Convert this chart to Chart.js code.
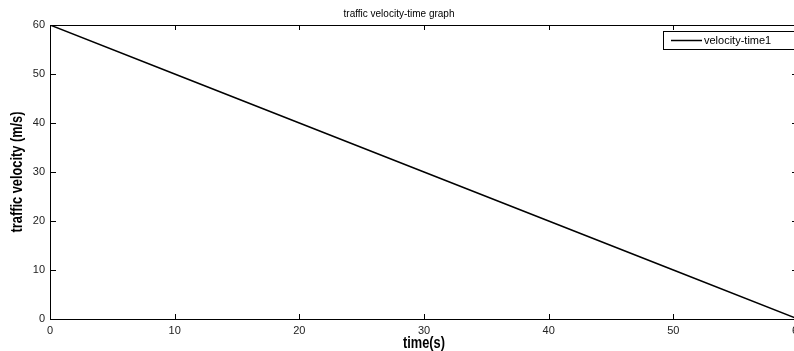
<!DOCTYPE html>
<html>
<head>
<meta charset="utf-8">
<script src="https://cdn.jsdelivr.net/npm/chart.js@4"></script>
<style>
  html, body { margin: 0; padding: 0; background: #fff; overflow: hidden; }
  #wrap { width: 794px; height: 351px; overflow: hidden; }
  canvas { display: block; }
</style>
</head>
<body>
<div id="wrap"><canvas id="vt-chart" width="798" height="351" style="width:798px;height:351px"></canvas></div>
<script>
// values
const timeSeconds = [0, 10, 20, 30, 40, 50, 60];
const velocity = [60, 50, 40, 30, 20, 10, 0];
const xTicks = [0, 10, 20, 30, 40, 50, 60];
const yTicks = [0, 10, 20, 30, 40, 50, 60];
const seriesName = 'velocity-time1';
const xLabel = 'time(s)';
const yLabel = 'traffic velocity (m/s)';

const sans = "'Liberation Sans', Arial, Helvetica, sans-serif";

// condensed bold axis label (the original uses a narrow heavy face)
function narrowText(ctx, text, x, y, rot) {
  ctx.save();
  ctx.translate(x, y);
  ctx.rotate(rot);
  ctx.scale(0.8, 1);
  ctx.font = 'bold 16px ' + sans;
  ctx.fillStyle = '#000';
  ctx.textAlign = 'center';
  ctx.textBaseline = 'middle';
  ctx.fillText(text, 0, 0);
  ctx.restore();
}

// matlab style: full box, inward ticks, legend inside the axes
const boxPlugin = {
  id: 'matlabBox',
  afterDatasetsDraw(chart) {
    const { ctx, chartArea: a, scales } = chart;
    ctx.save();
    ctx.strokeStyle = '#000';
    ctx.lineWidth = 1;
    ctx.strokeRect(a.left + 0.5, a.top + 0.5, a.right - a.left, a.bottom - a.top);
    ctx.beginPath();
    xTicks.forEach(v => {
      const px = Math.round(scales.x.getPixelForValue(v)) + 0.5;
      ctx.moveTo(px, a.bottom); ctx.lineTo(px, a.bottom - 5);
      ctx.moveTo(px, a.top); ctx.lineTo(px, a.top + 5);
    });
    yTicks.forEach(v => {
      const py = Math.round(scales.y.getPixelForValue(v)) + 0.5;
      ctx.moveTo(a.left, py); ctx.lineTo(a.left + 6, py);
      ctx.moveTo(a.right, py); ctx.lineTo(a.right - 6, py);
    });
    ctx.stroke();

    // legend
    const lx = a.right - 135, ly = a.top + 6, lw = 132, lh = 18;
    ctx.fillStyle = '#fff';
    ctx.fillRect(lx, ly, lw, lh);
    ctx.strokeRect(lx + 0.5, ly + 0.5, lw, lh);
    ctx.beginPath();
    ctx.lineWidth = 1.5;
    ctx.moveTo(lx + 8, ly + 9.5);
    ctx.lineTo(lx + 39, ly + 9.5);
    ctx.stroke();
    ctx.fillStyle = '#000';
    ctx.font = '11px ' + sans;
    ctx.textBaseline = 'middle';
    ctx.textAlign = 'left';
    ctx.fillText(chart.data.datasets[0].label, lx + 41, ly + 10);
    ctx.restore();

    // axis labels
    narrowText(ctx, xLabel, (a.left + a.right) / 2, 344, 0);
    narrowText(ctx, yLabel, 18, (a.top + a.bottom) / 2, -Math.PI / 2);
  }
};

const vtConfig = {
  type: 'line',
  data: {
    datasets: [
      {
        label: seriesName,
        data: timeSeconds.map((t, i) => ({ x: t, y: velocity[i] })),
        borderColor: '#000',
        borderWidth: 1.5,
        pointRadius: 0,
        tension: 0,
        fill: false,
      },
    ],
  },
  options: {
    responsive: false,
    animation: false,
    layout: { padding: 0 },
    plugins: {
      legend: { display: false },
      tooltip: { enabled: false },
      title: {
        display: true,
        text: 'traffic velocity-time graph',
        color: '#000',
        font: { family: sans, size: 10, weight: 'normal' },
        padding: { top: 8, bottom: 5 },
      },
    },
    scales: {
      x: {
        type: 'linear',
        min: 0,
        max: 60,
        grid: { display: false, drawTicks: false },
        border: { display: true, color: '#000', width: 1 },
        afterBuildTicks: s => { s.ticks = xTicks.map(v => ({ value: v })); },
        ticks: {
          padding: 5,
          color: '#222',
          maxRotation: 0,
          autoSkip: false,
          font: { family: sans, size: 11 },
        },
        afterFit: s => { s.height = 32; s.paddingLeft = 0; s.paddingRight = 0; },
      },
      y: {
        type: 'linear',
        min: 0,
        max: 60,
        grid: { display: false, drawTicks: false },
        border: { display: true, color: '#000', width: 1 },
        afterBuildTicks: s => { s.ticks = yTicks.map(v => ({ value: v })); },
        ticks: {
          padding: 5,
          color: '#222',
          font: { family: sans, size: 11 },
        },
        afterFit: s => { s.width = 50; s.paddingTop = 0; s.paddingBottom = 0; },
      },
    },
  },
  plugins: [boxPlugin],
};

new Chart(document.getElementById('vt-chart'), vtConfig);
</script>
</body>
</html>
